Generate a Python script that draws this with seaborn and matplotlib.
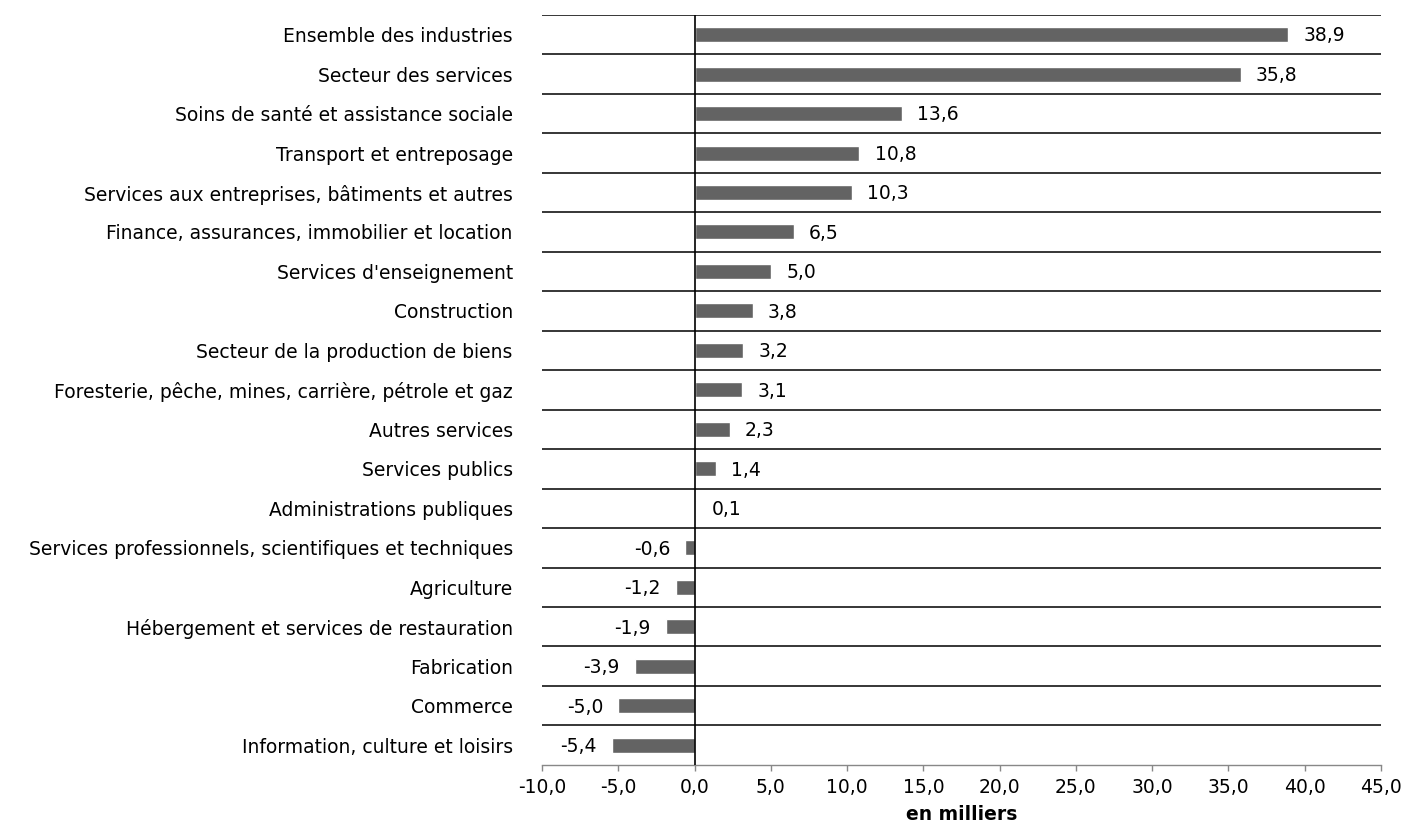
import numpy as np
import pandas as pd
import seaborn as sns
from matplotlib import pyplot as plt
from matplotlib.ticker import FuncFormatter

industries = [
    "Ensemble des industries",
    "Secteur des services",
    "Soins de santé et assistance sociale",
    "Transport et entreposage",
    "Services aux entreprises, bâtiments et autres",
    "Finance, assurances, immobilier et location",
    "Services d'enseignement",
    "Construction",
    "Secteur de la production de biens",
    "Foresterie, pêche, mines, carrière, pétrole et gaz",
    "Autres services",
    "Services publics",
    "Administrations publiques",
    "Services professionnels, scientifiques et techniques",
    "Agriculture",
    "Hébergement et services de restauration",
    "Fabrication",
    "Commerce",
    "Information, culture et loisirs",
]
change = [38.9, 35.8, 13.6, 10.8, 10.3, 6.5, 5.0, 3.8, 3.2, 3.1, 2.3, 1.4, 0.1,
          -0.6, -1.2, -1.9, -3.9, -5.0, -5.4]
x_ticks = [-10, -5, 0, 5, 10, 15, 20, 25, 30, 35, 40, 45]

BAR_COLOR = "#636363"
FS = 13.5


def fr(v):
    return f"{v:.1f}".replace(".", ",")


def main() -> None:
    sns.set_theme(style="white")
    plt.rcParams["font.family"] = ["DejaVu Sans"]

    df = pd.DataFrame({"industrie": industries, "variation": change})

    fig = plt.figure(figsize=(14.06, 8.26), dpi=100)
    ax = fig.add_axes([0.3855, 0.074, 0.5967, 0.908])

    sns.barplot(data=df, x="variation", y="industrie", orient="h",
                color=BAR_COLOR, saturation=1, width=0.38, ax=ax)

    n = len(industries)
    ax.set_xlim(x_ticks[0], x_ticks[-1])
    ax.set_ylim(n - 0.5, -0.5)

    # lignes de séparation entre catégories
    ax.hlines(np.arange(-0.5, n - 0.5, 1.0), x_ticks[0], x_ticks[-1],
              color="black", lw=1.1, zorder=1)
    ax.axvline(0, color="black", lw=1.2, zorder=3)

    for i, v in enumerate(change):
        if v >= 0:
            ax.annotate(fr(v), (v, i), xytext=(11, -1), textcoords="offset points",
                        ha="left", va="center", fontsize=FS, color="black")
        else:
            ax.annotate(fr(v), (v, i), xytext=(-11, -1), textcoords="offset points",
                        ha="right", va="center", fontsize=FS, color="black")

    ax.set_xticks(x_ticks)
    ax.xaxis.set_major_formatter(FuncFormatter(lambda v, _: fr(v)))
    ax.tick_params(axis="x", bottom=True, length=4.5, width=1, color="#888888",
                   labelsize=FS, pad=5, labelcolor="black")
    ax.tick_params(axis="y", left=False, labelsize=FS, pad=15, labelcolor="black")

    for side in ["top", "right", "left"]:
        ax.spines[side].set_visible(False)
    ax.spines["bottom"].set_color("#888888")
    ax.spines["bottom"].set_linewidth(1)

    ax.set_ylabel("")
    ax.set_xlabel("en milliers", fontsize=FS, fontweight="bold", labelpad=6,
                  color="black")

    fig.savefig("out.png", dpi=100)


if __name__ == "__main__":
    main()
